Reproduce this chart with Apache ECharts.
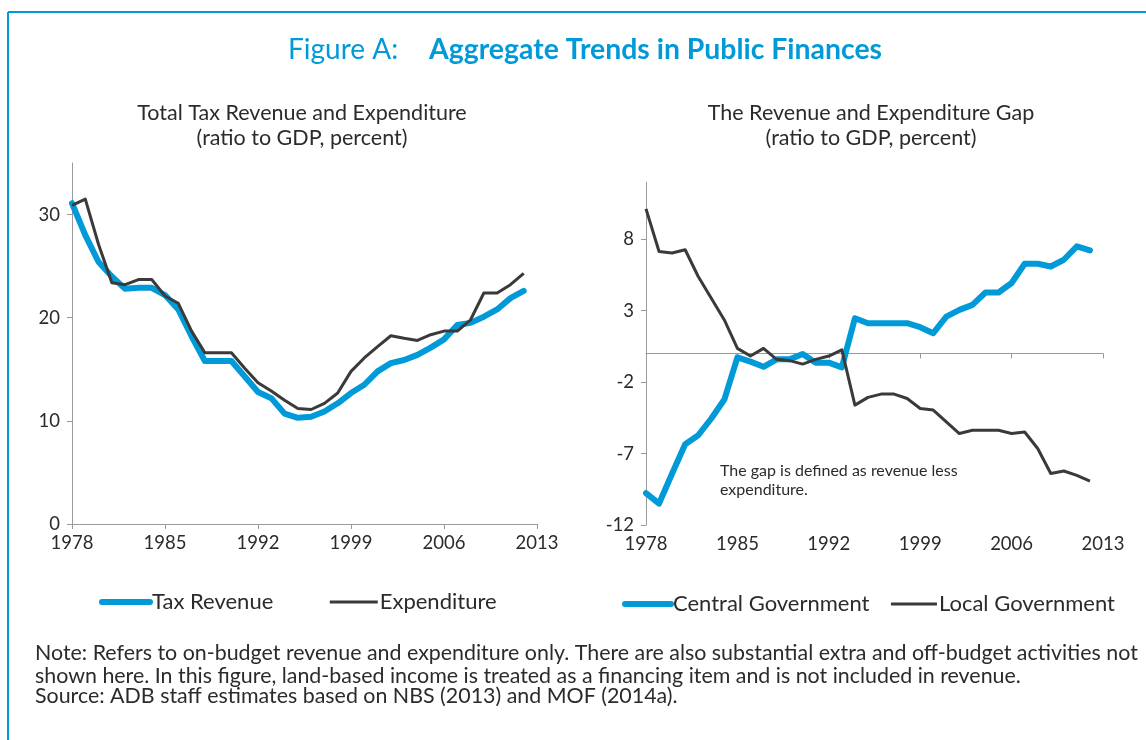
<!DOCTYPE html>
<html>
<head>
<meta charset="utf-8">
<script src="https://cdn.jsdelivr.net/npm/echarts@6/dist/echarts.min.js"></script>
<style>
  html, body { margin: 0; padding: 0; background: #fff; }
  #main { width: 1146px; height: 740px; }
</style>
</head>
<body>
<div id="main"></div>
<script>
var years = [1978, 1979, 1980, 1981, 1982, 1983, 1984, 1985, 1986, 1987,
             1988, 1989, 1990, 1991, 1992, 1993, 1994, 1995, 1996, 1997,
             1998, 1999, 2000, 2001, 2002, 2003, 2004, 2005, 2006, 2007,
             2008, 2009, 2010, 2011, 2012];

// left panel: ratio to GDP, percent
var taxRevenue = [31.1, 28.0, 25.4, 24.0, 22.8, 22.9, 22.9, 22.2, 20.8, 18.2,
                  15.8, 15.8, 15.8, 14.3, 12.8, 12.2, 10.7, 10.3, 10.4, 10.9,
                  11.7, 12.7, 13.5, 14.8, 15.6, 15.9, 16.4, 17.1, 17.9, 19.3,
                  19.5, 20.1, 20.8, 21.9, 22.6];
var expenditure = [30.9, 31.5, 27.1, 23.4, 23.2, 23.7, 23.7, 22.1, 21.4, 18.7,
                   16.6, 16.6, 16.6, 15.1, 13.7, 12.9, 12.0, 11.2, 11.1, 11.7,
                   12.7, 14.8, 16.1, 17.2, 18.25, 18.0, 17.8, 18.35, 18.7, 18.7,
                   19.8, 22.4, 22.4, 23.2, 24.3];

// right panel: revenue less expenditure
var centralGov = [-9.77, -10.5, -8.4, -6.35, -5.72, -4.55, -3.22, -0.27, -0.57, -0.93,
                  -0.41, -0.41, -0.04, -0.64, -0.64, -0.97, 2.47, 2.12, 2.12, 2.12,
                  2.12, 1.84, 1.42, 2.58, 3.05, 3.4, 4.27, 4.27, 4.93, 6.28,
                  6.28, 6.09, 6.56, 7.5, 7.21];
var localGov = [10.12, 7.14, 7.03, 7.26, 5.39, 3.87, 2.35, 0.36, -0.18, 0.36,
                -0.41, -0.5, -0.74, -0.41, -0.18, 0.25, -3.61, -3.07, -2.84, -2.84,
                -3.15, -3.85, -3.96, -4.79, -5.6, -5.37, -5.37, -5.37, -5.6, -5.49,
                -6.65, -8.4, -8.22, -8.53, -8.93];

var yearTicks = [1978, 1985, 1992, 1999, 2006, 2013];
var leftTicks = [0, 10, 20, 30];
var rightTicks = [-12, -7, -2, 3, 8];

var BLUE = '#009ad8';
var DARK = '#3a3a3a';
var AXIS = '#9a9a9a';
var TEXT = '#2b2b2b';
var FONT = 'Lato, "Open Sans", sans-serif';

function pairs(vals) {
  return years.map(function (y, i) { return [y, vals[i]]; });
}

var myChart = echarts.init(document.getElementById('main'));

var yearAxisLabel = {
  fontFamily: FONT, fontSize: 18.5, color: TEXT, margin: 10,
  customValues: yearTicks,
  formatter: function (v) { return String(v); }
};
var yLabel = function (ticks) {
  return { customValues: ticks, fontFamily: FONT, fontSize: 18.5, color: TEXT, margin: 12 };
};

option = {
  backgroundColor: '#fff',
  animation: false,
  textStyle: { fontFamily: FONT },
  title: [
    {
      left: 283, top: 31,
      text: '{a|Figure A:}{b|Aggregate Trends in Public Finances}',
      textStyle: {
        rich: {
          a: { fontFamily: FONT, fontSize: 28, color: BLUE, fontWeight: 'normal', width: 141 },
          b: { fontFamily: FONT, fontSize: 28.4, color: BLUE, fontWeight: 'bold' }
        }
      }
    },
    {
      left: 297, top: 97, textAlign: 'center',
      text: 'Total Tax Revenue and Expenditure',
      subtext: '(ratio to GDP, percent)',
      itemGap: 3,
      textStyle: { fontFamily: FONT, fontSize: 21.5, fontWeight: 'normal', color: TEXT },
      subtextStyle: { fontFamily: FONT, fontSize: 21.5, color: TEXT }
    },
    {
      left: 866, top: 97, textAlign: 'center',
      text: 'The Revenue and Expenditure Gap',
      subtext: '(ratio to GDP, percent)',
      itemGap: 3,
      textStyle: { fontFamily: FONT, fontSize: 21.5, fontWeight: 'normal', color: TEXT },
      subtextStyle: { fontFamily: FONT, fontSize: 21.5, color: TEXT }
    }
  ],
  legend: [
    {
      left: 94, top: 586,
      data: [
        { name: 'Tax Revenue', lineStyle: { width: 6, cap: 'round' } },
        { name: 'Expenditure', lineStyle: { width: 3 } }
      ],
      itemWidth: 48, itemHeight: 14, itemGap: 55,
      itemStyle: { opacity: 0 },
      textStyle: { fontFamily: FONT, fontSize: 22, color: TEXT, padding: [0, 0, 0, -3] }
    },
    {
      left: 617, top: 588,
      data: [
        { name: 'Central Government', lineStyle: { width: 6, cap: 'round' } },
        { name: 'Local Government', lineStyle: { width: 3 } }
      ],
      itemWidth: 46, itemHeight: 14, itemGap: 20,
      itemStyle: { opacity: 0 },
      textStyle: { fontFamily: FONT, fontSize: 22, color: TEXT, padding: [0, 0, 0, -3] }
    }
  ],
  grid: [
    { left: 72, right: 609, top: 163, bottom: 216 },
    { left: 646, right: 43, top: 182, bottom: 215 }
  ],
  xAxis: [
    {
      gridIndex: 0, type: 'value', min: 1978, max: 2013, interval: 7,
      axisLine: { lineStyle: { color: AXIS } },
      axisTick: { length: 5, lineStyle: { color: AXIS } },
      axisLabel: yearAxisLabel,
      splitLine: { show: false }
    },
    {
      gridIndex: 1, type: 'value', min: 1978, max: 2013, interval: 7, position: 'bottom',
      axisLine: { show: false, onZero: false },
      axisTick: { show: false },
      axisLabel: yearAxisLabel,
      splitLine: { show: false }
    },
    {
      gridIndex: 1, type: 'value', min: 1978, max: 2013, interval: 7, position: 'bottom',
      axisLine: { onZero: true, lineStyle: { color: AXIS } },
      axisTick: { length: 5, lineStyle: { color: AXIS } },
      axisLabel: { show: false },
      splitLine: { show: false }
    }
  ],
  yAxis: [
    {
      gridIndex: 0, type: 'value', min: 0, max: 35,
      axisLine: { show: true, lineStyle: { color: AXIS } },
      axisTick: { show: true, length: 5, customValues: leftTicks, lineStyle: { color: AXIS } },
      axisLabel: yLabel(leftTicks),
      splitLine: { show: false }
    },
    {
      gridIndex: 1, type: 'value', min: -12, max: 12,
      axisLine: { show: true, onZero: false, lineStyle: { color: AXIS } },
      axisTick: { show: true, length: 5, customValues: rightTicks, lineStyle: { color: AXIS } },
      axisLabel: yLabel(rightTicks),
      splitLine: { show: false }
    }
  ],
  graphic: [
    { type: 'line', shape: { x1: 8, y1: 12, x2: 1146, y2: 12 }, style: { stroke: BLUE, lineWidth: 2 } },
    { type: 'line', shape: { x1: 8, y1: 12, x2: 8, y2: 740 }, style: { stroke: BLUE, lineWidth: 2 } },
    {
      type: 'text', left: 720, top: 461,
      style: {
        text: 'The gap is defined as revenue less\nexpenditure.',
        font: '16px Lato, sans-serif', fill: TEXT, lineHeight: 19
      }
    },
    {
      type: 'text', left: 35, top: 642,
      style: {
        text: 'Note: Refers to on-budget revenue and expenditure only. There are also substantial extra and off-budget activities not\nshown here. In this figure, land-based income is treated as a financing item and is not included in revenue.',
        font: '21.4px Lato, sans-serif', fill: TEXT, lineHeight: 23
      }
    },
    {
      type: 'text', left: 35, top: 685,
      style: {
        text: 'Source: ADB staff estimates based on NBS (2013) and MOF (2014a).',
        font: '21.4px Lato, sans-serif', fill: TEXT, lineHeight: 23
      }
    }
  ],
  series: [
    {
      name: 'Tax Revenue', type: 'line', xAxisIndex: 0, yAxisIndex: 0,
      data: pairs(taxRevenue), showSymbol: false, symbol: 'none', z: 2,
      lineStyle: { color: BLUE, width: 6, cap: 'round', join: 'round' },
      itemStyle: { color: BLUE }
    },
    {
      name: 'Expenditure', type: 'line', xAxisIndex: 0, yAxisIndex: 0,
      data: pairs(expenditure), showSymbol: false, symbol: 'none', z: 3,
      lineStyle: { color: DARK, width: 3, join: 'round' },
      itemStyle: { color: DARK }
    },
    {
      name: 'Central Government', type: 'line', xAxisIndex: 2, yAxisIndex: 1,
      data: pairs(centralGov), showSymbol: false, symbol: 'none', z: 2,
      lineStyle: { color: BLUE, width: 6, cap: 'round', join: 'round' },
      itemStyle: { color: BLUE }
    },
    {
      name: 'Local Government', type: 'line', xAxisIndex: 2, yAxisIndex: 1,
      data: pairs(localGov), showSymbol: false, symbol: 'none', z: 3,
      lineStyle: { color: DARK, width: 3, join: 'round' },
      itemStyle: { color: DARK }
    }
  ]
};

myChart.setOption(option);
</script>
</body>
</html>
